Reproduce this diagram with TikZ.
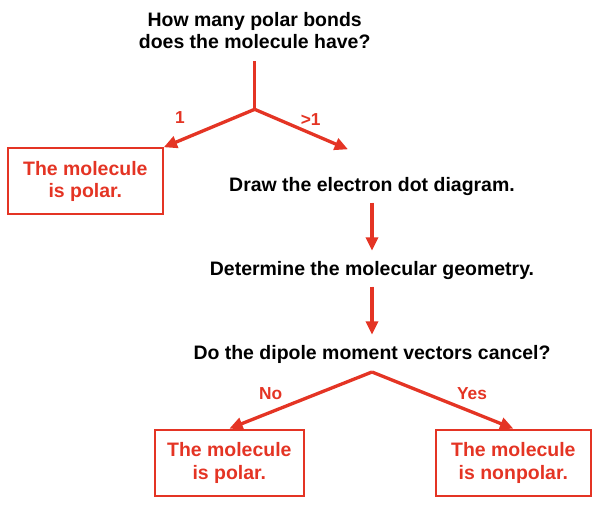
\documentclass[tikz,border=0pt]{standalone}
\usepackage{fontspec}
\setmainfont{Liberation Sans}
\usetikzlibrary{positioning, arrows.meta}
\definecolor{flowred}{RGB}{228,52,36}

\begin{document}
\begin{tikzpicture}[
      x=1pt, y=-1pt,
      % GLOBAL CFG
      font=\bfseries\fontsize{14.6}{17}\selectfont,
      >={Triangle[length=10pt,width=9pt]},
      % Styles
      question/.style={% For the steps
        align=center,
        inner sep=2pt
      },
      answer/.style={% For the results
        rectangle,
        draw=flowred,
        line width=1.6pt,
        text=flowred,
        align=center,
        minimum height=49.5pt
      },
      branch/.style={% Labels on the branches
        text=flowred,
        font=\bfseries\fontsize{13}{15}\selectfont
      },
      arrowflow/.style={% Arrows between steps
        draw=flowred,
        fill=flowred,
        line width=2.5pt,
        ->,
      }
      ]
      \useasboundingbox (0,0) rectangle (450,378.75);

      % Start with the question
      \node [question] (bonds) at (191,23){How many polar bonds\\does the molecule have?} ;
      \coordinate (split1) at (191,82);
      \node [answer, minimum width=116pt] (polarA) at (64,136){The molecule\\is polar.} ;
      \node [question] (dot) at (279,140){Draw the electron dot diagram.} ;
      \node [question] (geometry) at (279,203){Determine the molecular geometry.} ;
      \node [question] (dipole) at (279,266){Do the dipole moment vectors cancel?} ;
      \coordinate (split2) at (279,279);
      \node [answer, minimum width=112pt] (polarB) at (172,347){The molecule\\is polar.} ;
      \node [answer, minimum width=116pt] (nonpolar) at (385,347){The molecule\\is nonpolar.} ;

      \node [branch] (one) at (135,88){1} ;
      \node [branch] (more) at (233,90){>1} ;
      \node [branch] (no) at (203,295){No} ;
      \node [branch] (yes) at (354,295){Yes} ;

      \draw [arrowflow, -] (191,46) -- (split1);
      \draw [arrowflow] (split1) -- (polarA.north east);
      \draw [arrowflow] (split1) -- (261,112);
      \draw [arrowflow] (dot.south) ++(0,3) -- (279,188);
      \draw [arrowflow] (geometry.south) ++(0,3) -- (279,251);
      \draw [arrowflow] (split2) -- (polarB.north);
      \draw [arrowflow] (split2) -- (nonpolar.north);
    \end{tikzpicture}
\end{document}
